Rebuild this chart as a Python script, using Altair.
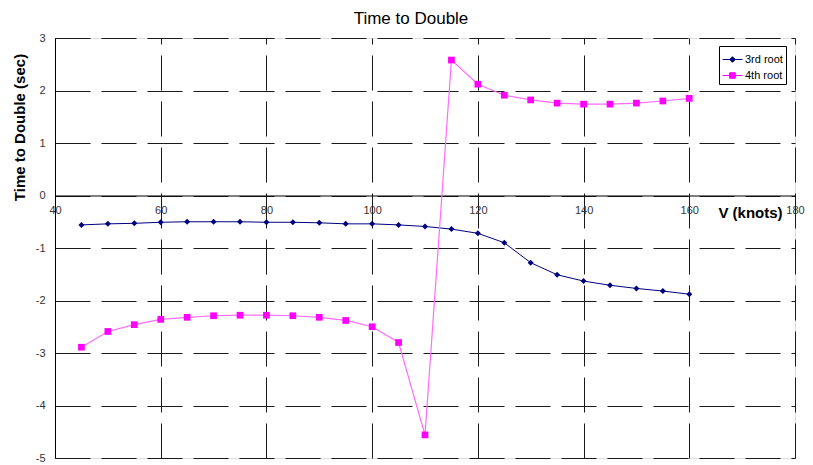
import altair as alt
import pandas as pd

# ---- data ----
V = [45, 50, 55, 60, 65, 70, 75, 80, 85, 90, 95, 100,
     105, 110, 115, 120, 125, 130, 135, 140, 145, 150, 155, 160]
ROOT3 = [-0.56, -0.54, -0.53, -0.51, -0.50, -0.50, -0.50, -0.51, -0.51, -0.52, -0.54, -0.54,
         -0.56, -0.59, -0.64, -0.72, -0.90, -1.28, -1.51, -1.63, -1.71, -1.77, -1.82, -1.88]
ROOT4 = [-2.89, -2.59, -2.46, -2.36, -2.32, -2.29, -2.28, -2.28, -2.29, -2.32, -2.38, -2.50,
         -2.80, -4.56, 2.58, 2.12, 1.91, 1.82, 1.76, 1.74, 1.74, 1.76, 1.80, 1.85]
SERIES = ["3rd root", "4th root"]
X_TICKS = [40, 60, 80, 100, 120, 140, 160, 180]
Y_TICKS = [-5, -4, -3, -2, -1, 0, 1, 2, 3]
TITLE = "Time to Double"
Y_TITLE = "Time to Double (sec)"
X_TITLE = "V (knots)"

# ---- styling ----
W, H = 740, 420
FONT = "Liberation Sans"
NAVY = "#000080"
MAG = "#ff00ff"
MAG_LINE = "#ff6cff"
DASH = [35, 11]
GRID = "#1a1a1a"

df = pd.DataFrame({
    "V": V + V,
    "value": ROOT3 + ROOT4,
    "series": [SERIES[0]] * len(V) + [SERIES[1]] * len(V),
})

xs = alt.Scale(domain=[X_TICKS[0], X_TICKS[-1]], nice=False, zero=False)
ys = alt.Scale(domain=[Y_TICKS[0], Y_TICKS[-1]], nice=False, zero=False)

base = alt.Chart(df)

# grid + y axis layer (x axis on top, grid only -> dashes start at top)
grid_layer = base.mark_point(opacity=0).encode(
    x=alt.X("V:Q", scale=xs, axis=alt.Axis(
        orient="top", values=X_TICKS, grid=True, gridDash=DASH, gridColor=GRID,
        gridWidth=1, domain=False, ticks=False, labels=False, title=None)),
    y=alt.Y("value:Q", scale=ys, axis=alt.Axis(
        orient="left", values=Y_TICKS, grid=True, gridDash=DASH, gridColor=GRID,
        gridWidth=1, domain=True, domainColor="black", domainWidth=1, ticks=False,
        labelPadding=10, labelFontSize=11, labelColor="#333333", labelFont=FONT,
        labelExpr="'' + datum.value",
        title=Y_TITLE, titleFont=FONT, titleFontSize=15, titleFontWeight="bold",
        titleColor="black", titleAngle=-90, titleX=-36, titleY=89,
        titleAlign="center", titleBaseline="middle")),
)

# x axis at zero line
zero_axis_layer = base.mark_point(opacity=0).encode(
    x=alt.X("V:Q", scale=xs, axis=alt.Axis(
        orient="bottom", offset=-H * 5 / 8, values=X_TICKS, grid=False,
        domain=True, domainColor="black", domainWidth=1, ticks=False,
        labelPadding=9, labelFontSize=11, labelColor="#333333", labelFont=FONT,
        labelFlush=False,
        title=X_TITLE, titleFont=FONT, titleFontSize=15, titleFontWeight="bold",
        titleColor="black", titleX=695, titleY=17, titleAlign="center",
        titleBaseline="middle")),
    y=alt.Y("value:Q", scale=ys, axis=None),
)

def series_layers(name, line_color, pt_color, shape, size, lw):
    d = base.transform_filter(alt.datum.series == name)
    line = d.mark_line(color=line_color, strokeWidth=lw).encode(
        x=alt.X("V:Q", scale=xs, axis=None),
        y=alt.Y("value:Q", scale=ys, axis=None),
    )
    pts = d.mark_point(filled=True, color=pt_color, shape=shape, size=size, opacity=1).encode(
        x=alt.X("V:Q", scale=xs, axis=None),
        y=alt.Y("value:Q", scale=ys, axis=None),
    )
    return [line, pts]

l3 = series_layers(SERIES[0], NAVY, NAVY, "diamond", 36, 1)
l4 = series_layers(SERIES[1], MAG_LINE, MAG, "square", 45, 1.2)

# legend layer (no visible data, legend from explicit domains)
P3 = "M-1,0L1,0M0,-0.28L0.28,0L0,0.28L-0.28,0Z"
P4 = "M-1,0L1,0M-0.28,-0.28L0.28,-0.28L0.28,0.28L-0.28,0.28Z"
leg = alt.Legend(
    title=None, orient="none", legendX=664, legendY=8,
    strokeColor="black", fillColor="white", padding=3, cornerRadius=0,
    labelFont=FONT, labelFontSize=11, labelColor="black", labelOffset=2,
    symbolSize=400, symbolStrokeWidth=1, rowPadding=0,
)
legend_layer = base.transform_filter("false").mark_point(filled=True, opacity=1).encode(
    x=alt.X("V:Q", scale=xs, axis=None),
    y=alt.Y("value:Q", scale=ys, axis=None),
    fill=alt.Fill("series:N", scale=alt.Scale(domain=SERIES, range=[NAVY, MAG]), legend=leg),
    stroke=alt.Stroke("series:N", scale=alt.Scale(domain=SERIES, range=[NAVY, MAG]), legend=leg),
    shape=alt.Shape("series:N", scale=alt.Scale(domain=SERIES, range=[P3, P4]), legend=leg),
)

chart = alt.layer(
    grid_layer, zero_axis_layer, *l3, *l4, legend_layer
).resolve_axis(x="independent", y="independent").properties(
    width=W, height=H,
    title=alt.Title(TITLE, font=FONT, fontSize=17, fontWeight="normal", color="black",
                    anchor="middle", frame="group", dx=-14),
    autosize=alt.AutoSizeParams(type="none"),
    padding={"left": 47, "top": 30, "right": 10, "bottom": 5},
).configure_view(stroke=None).configure(background="white")

chart.save("out.html", embed_options={"renderer": "svg", "actions": False})
